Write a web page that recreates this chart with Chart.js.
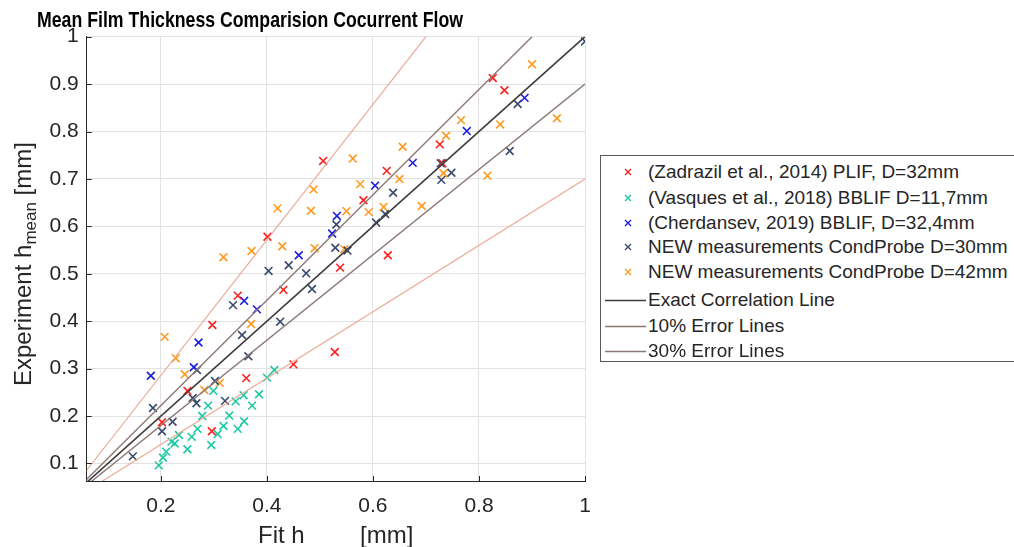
<!DOCTYPE html>
<html><head><meta charset="utf-8">
<script src="https://cdn.jsdelivr.net/npm/chart.js@4/dist/chart.umd.min.js"></script>
<style>
html,body{margin:0;padding:0;background:#fff;}
#wrap{position:relative;width:1014px;height:547px;overflow:hidden;font-family:"Liberation Sans",Arial,Helvetica,sans-serif;color:#262626;}
#c{position:absolute;left:0;top:0;}
#title{position:absolute;left:37px;top:10px;font-weight:bold;font-size:21.5px;line-height:21px;color:#000;white-space:nowrap;transform-origin:0 0;}
.xl{position:absolute;top:523px;font-size:24px;line-height:24px;white-space:nowrap;color:#262626;}
#ylab{position:absolute;left:10.7px;top:386px;font-size:24px;line-height:24px;white-space:nowrap;transform-origin:0 0;transform:rotate(-90deg);color:#262626;}
#ylab sub{font-size:17px;vertical-align:-5px;line-height:0;}
#legend{position:absolute;left:600px;top:155px;width:440px;height:207px;border:1px solid #5a5a5a;background:#fff;box-sizing:border-box;}
.row{position:absolute;left:0;height:24px;font-size:19px;line-height:24px;white-space:nowrap;color:#262626;}
.row svg{position:absolute;top:0;}
.row span{position:absolute;left:47px;top:0;}
</style></head>
<body>
<div id="wrap">
<canvas id="c" width="1014" height="547"></canvas>
<div id="title">Mean Film Thickness Comparision Cocurrent Flow</div>
<div id="ylab">Experiment h<sub>mean</sub> [mm]</div>
<div class="xl" style="left:258px">Fit h</div>
<div class="xl" style="left:360px">[mm]</div>
<div id="legend"></div>
</div>
<script>
// ---- data ----
const seriesLabels = [
  "(Zadrazil et al., 2014) PLIF, D=32mm",
  "(Vasques et al., 2018) BBLIF D=11,7mm",
  "(Cherdansev, 2019) BBLIF, D=32,4mm",
  "NEW measurements CondProbe D=30mm",
  "NEW measurements CondProbe D=42mm"
];
const seriesColors = ["#ff1f1f", "#1ec8a5", "#1c1ce6", "#3a4a6c", "#ff9a1e"];

const zadrazilX = [0.826,0.848,0.726,0.731,0.626,0.582,0.506,0.401,0.628,0.538,0.431,0.345,0.297,0.450,0.528,0.361,0.250,0.202,0.296];
const zadrazilY = [0.913,0.887,0.773,0.733,0.717,0.655,0.738,0.578,0.539,0.513,0.466,0.454,0.392,0.309,0.335,0.280,0.253,0.187,0.168];

const vasquesX = [0.414,0.400,0.385,0.372,0.356,0.341,0.357,0.345,0.329,0.318,0.307,0.295,0.299,0.289,0.278,0.269,0.258,0.250,0.234,0.226,0.220,0.210,0.204,0.196];
const vasquesY = [0.297,0.281,0.246,0.222,0.244,0.231,0.189,0.173,0.201,0.179,0.162,0.139,0.253,0.222,0.200,0.173,0.156,0.130,0.160,0.142,0.146,0.125,0.112,0.096];

const cherdansevX = [0.886,0.777,0.675,0.604,0.532,0.523,0.460,0.381,0.357,0.271,0.262,0.181];
const cherdansevY = [0.871,0.801,0.734,0.686,0.622,0.585,0.539,0.425,0.443,0.355,0.303,0.285];

const new30X = [1.000,0.873,0.858,0.728,0.748,0.729,0.623,0.606,0.638,0.531,0.529,0.552,0.474,0.441,0.403,0.485,0.425,0.336,0.353,0.365,0.268,0.302,0.321,0.260,0.267,0.185,0.222,0.202,0.147];
const new30Y = [0.990,0.858,0.759,0.733,0.713,0.698,0.626,0.608,0.671,0.604,0.555,0.549,0.501,0.518,0.506,0.468,0.399,0.434,0.371,0.326,0.297,0.274,0.232,0.238,0.227,0.217,0.188,0.168,0.115];

const new42X = [0.900,0.947,0.840,0.766,0.738,0.656,0.562,0.733,0.816,0.650,0.576,0.488,0.692,0.620,0.592,0.550,0.483,0.420,0.429,0.490,0.546,0.371,0.318,0.370,0.207,0.228,0.245,0.282,0.311];
const new42Y = [0.942,0.828,0.815,0.824,0.791,0.768,0.743,0.712,0.707,0.700,0.689,0.678,0.643,0.641,0.630,0.632,0.633,0.638,0.558,0.554,0.552,0.548,0.535,0.394,0.367,0.322,0.288,0.255,0.270];

const lineLabels = ["Exact Correlation Line", "10% Error Lines", "30% Error Lines"];
const exactLineX = [0, 1],   exactLineY = [0, 1];
const upper10X = [0, 0.9],   upper10Y = [0, 1];
const lower10X = [0, 1],     lower10Y = [0, 0.9];
const upper30X = [0, 0.7],   upper30Y = [0, 1];
const lower30X = [0, 1],     lower30Y = [0, 0.7];

const xTicks = [0.2, 0.4, 0.6, 0.8, 1];
const xTickLabels = ["0.2", "0.4", "0.6", "0.8", "1"];
const yTicks = [0.1, 0.2, 0.3, 0.4, 0.5, 0.6, 0.7, 0.8, 0.9, 1];
const yTickLabels = ["0.1", "0.2", "0.3", "0.4", "0.5", "0.6", "0.7", "0.8", "0.9", "1"];

// ---- build ----
const pts = (xs, ys) => xs.map((x, i) => ({x: x, y: ys[i]}));
const seriesXY = [[zadrazilX, zadrazilY],[vasquesX, vasquesY],[cherdansevX, cherdansevY],[new30X, new30Y],[new42X, new42Y]];

const datasets = [];
const lineColExact = "#3d3d3d", lineCol10 = "#8c7a76", lineCol30 = "#e9ab96";
[[exactLineX, exactLineY, lineColExact, 1.6],
 [upper10X, upper10Y, lineCol10, 1.4],
 [lower10X, lower10Y, lineCol10, 1.4],
 [upper30X, upper30Y, lineCol30, 1.2],
 [lower30X, lower30Y, lineCol30, 1.2]].forEach(([xs, ys, c, w]) => {
  datasets.push({type:'scatter', data: pts(xs, ys), showLine:true, borderColor:c, backgroundColor:c,
    borderWidth:w, pointRadius:0, pointHoverRadius:0, fill:false, order:0});
});
seriesXY.forEach(([xs, ys], i) => {
  datasets.push({type:'scatter', label: seriesLabels[i], data: pts(xs, ys), showLine:false,
    pointStyle:'crossRot', pointRadius:5.5, pointHoverRadius:5.5, borderWidth:1.6,
    borderColor: seriesColors[i], backgroundColor: seriesColors[i], order:1});
});

const innerTicks = {
  id:'innerTicks',
  afterDraw(chart){
    const ctx = chart.ctx, a = chart.chartArea, xs = chart.scales.x, ys = chart.scales.y;
    ctx.save();
    ctx.strokeStyle = '#262626'; ctx.lineWidth = 1;
    ctx.beginPath();
    xTicks.forEach(v => { const p = Math.round(xs.getPixelForValue(v)) + 0.5; ctx.moveTo(p, a.bottom); ctx.lineTo(p, a.bottom - 5); });
    yTicks.forEach(v => { const p = Math.round(ys.getPixelForValue(v)) + 0.5; ctx.moveTo(a.left, p); ctx.lineTo(a.left + 5, p); });
    ctx.stroke();
    ctx.restore();
  }
};

const tickFont = {family:'"Liberation Sans", Arial, sans-serif', size:21};
new Chart(document.getElementById('c'), {
  type:'scatter',
  data:{datasets},
  options:{
    responsive:false, animation:false, devicePixelRatio:1,
    layout:{padding:{left:0, top:36.7, right:1014-585, bottom:0}},
    plugins:{legend:{display:false}, title:{display:false}, tooltip:{enabled:false}},
    scales:{
      x:{type:'linear', min:0.06, max:1,
        afterBuildTicks: s => { s.ticks = xTicks.map(v => ({value:v})); },
        afterFit: s => { s.height = 547 - 481; },
        ticks:{font:tickFont, color:'#262626', padding:13, maxRotation:0,
          callback: (v) => { const i = xTicks.indexOf(v); return i >= 0 ? xTickLabels[i] : ''; }},
        grid:{color:'#e2e2e2', lineWidth:1, drawTicks:false},
        border:{color:'#262626', width:1}},
      y:{type:'linear', min:0.063, max:1,
        afterBuildTicks: s => { s.ticks = yTicks.map(v => ({value:v})); },
        afterFit: s => { s.width = 86.7; },
        ticks:{font:tickFont, color:'#262626', padding:8,
          callback: (v) => { const i = yTicks.findIndex(t => Math.abs(t - v) < 1e-9); return i >= 0 ? yTickLabels[i] : ''; }},
        grid:{color:'#e2e2e2', lineWidth:1, drawTicks:false},
        border:{color:'#262626', width:1}}
    }
  },
  plugins:[innerTicks]
});

// ---- legend ----
const legend = document.getElementById('legend');
const rowCenters = [16, 41.5, 66.5, 91, 115.5, 144, 169.5, 195];
const legendItems = seriesLabels.map((l, i) => ({label:l, color:seriesColors[i], kind:'marker'}))
  .concat([{label:lineLabels[0], color:lineColExact, kind:'line'},
           {label:lineLabels[1], color:lineCol10, kind:'line'},
           {label:lineLabels[2], color:lineCol10, kind:'line'}]);
legendItems.forEach((it, i) => {
  const r = document.createElement('div');
  r.className = 'row';
  r.style.top = (rowCenters[i] - 12) + 'px';
  let svg;
  if (it.kind === 'marker') {
    svg = '<svg width="12" height="24" style="left:21px"><path d="M3 9 L9 15 M9 9 L3 15" stroke="' + it.color + '" stroke-width="1.4" fill="none"/></svg>';
  } else {
    svg = '<svg width="42" height="24" style="left:4px"><path d="M0 12.5 L41 12.5" stroke="' + it.color + '" stroke-width="1.3" fill="none"/></svg>';
  }
  r.innerHTML = svg + '<span>' + it.label + '</span>';
  legend.appendChild(r);
});

// title width fit
const t = document.getElementById('title');
const w = t.getBoundingClientRect().width;
t.style.transform = 'scaleX(' + (426 / w) + ')';
</script>
</body></html>
